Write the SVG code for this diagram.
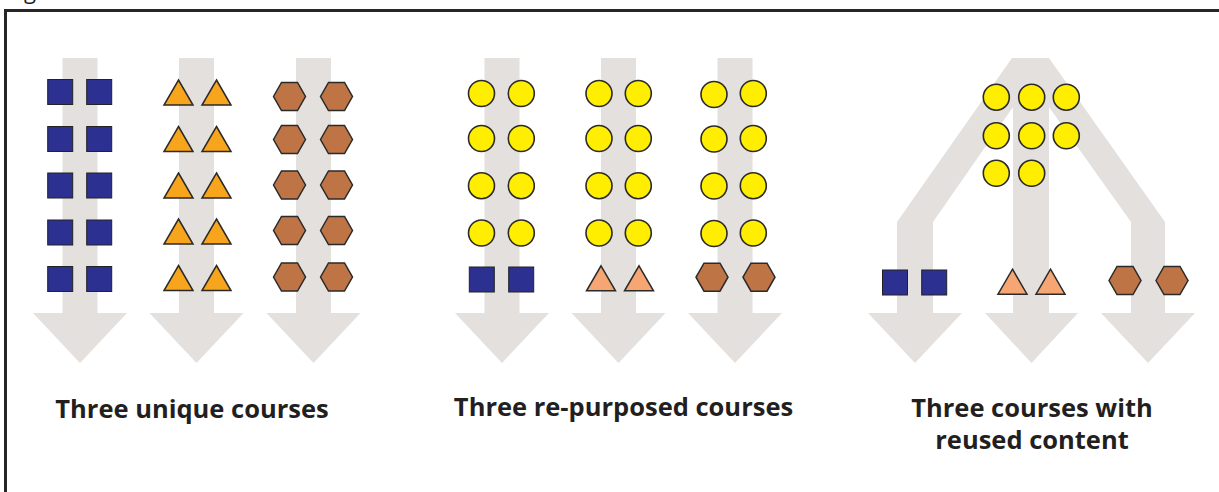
<svg xmlns="http://www.w3.org/2000/svg" xmlns:xlink="http://www.w3.org/1999/xlink" width="1219" height="492" viewBox="0 0 1219 492">
<style>
  .arrow { fill: #e3e0de; stroke: none; }
  .sq { fill: #2b3091; stroke: #222; stroke-width: 1; }
  .tri1 { fill: #f8a51e; stroke: #2a2a2a; stroke-width: 1.5; stroke-linejoin: miter; }
  .tri2 { fill: #f5a673; stroke: #2a2a2a; stroke-width: 1.5; }
  .hex { fill: #bf7446; stroke: #2a2a2a; stroke-width: 1.5; }
  .cir { fill: #ffee00; stroke: #2a2a2a; stroke-width: 1.6; }
  .label { font-family: "Open Sans", "Noto Sans", "Liberation Sans", sans-serif; font-weight: bold; font-size: 25.5px; fill: #231f20; text-anchor: middle; }
  .frame { fill: none; stroke: #262626; stroke-width: 3; }
</style>
<defs>
  <rect id="sq" x="-12.5" y="-12.5" width="25" height="25"/>
  <polygon id="tri" points="0,-12.5 14.5,12.5 -14.5,12.5"/>
  <polygon id="hex" points="-16,0 -8,-14 8,-14 16,0 8,14 -8,14"/>
  <circle id="cir" r="13"/>
</defs>
<rect width="1219" height="492" fill="#ffffff"/>
<text x="24" y="-1" font-family="'Open Sans', sans-serif" font-size="22" fill="#231f20">g</text>
<path class="frame" d="M1222,10.5 H5.5 V495"/>

<g id="connectors">
  <path class="arrow" d="M62.5,58 H97.5 V313 H127 L80,363 L33,313 H62.5 Z"/>
  <path class="arrow" d="M179,58 H214 V313 H243.5 L196.5,363 L149.5,313 H179 Z"/>
  <path class="arrow" d="M296,58 H331 V313 H360.5 L313.5,363 L266.5,313 H296 Z"/>
  <path class="arrow" d="M484.5,58 H519.5 V313 H549 L502,363 L455,313 H484.5 Z"/>
  <path class="arrow" d="M601,58 H636 V313 H665.5 L618.5,363 L571.5,313 H601 Z"/>
  <path class="arrow" d="M717.5,58 H752.5 V313 H782 L735,363 L688,313 H717.5 Z"/>
  <path class="arrow" d="M1012,58 H1049 L1165,222 V313 H1195 L1148,363 L1101,313 H1131 V222 L1049,107 V313 H1078 L1031.5,363 L985,313 H1013 V107 L933,222 V313 H962 L915,363 L868,313 H897 V222 Z"/>
</g>

<g id="panel-unique">
  <g id="unique-squares" class="sq">
    <use xlink:href="#sq" x="60.2" y="92"/><use xlink:href="#sq" x="99.2" y="92"/>
    <use xlink:href="#sq" x="60.2" y="139"/><use xlink:href="#sq" x="99.2" y="139"/>
    <use xlink:href="#sq" x="60.2" y="185.5"/><use xlink:href="#sq" x="99.2" y="185.5"/>
    <use xlink:href="#sq" x="60.2" y="232.5"/><use xlink:href="#sq" x="99.2" y="232.5"/>
    <use xlink:href="#sq" x="60.2" y="279"/><use xlink:href="#sq" x="99.2" y="279"/>
  </g>
  <g id="unique-triangles" class="tri1">
    <use xlink:href="#tri" x="178.5" y="92.5"/><use xlink:href="#tri" x="216.5" y="92.5"/>
    <use xlink:href="#tri" x="178.5" y="139"/><use xlink:href="#tri" x="216.5" y="139"/>
    <use xlink:href="#tri" x="178.5" y="185.5"/><use xlink:href="#tri" x="216.5" y="185.5"/>
    <use xlink:href="#tri" x="178.5" y="231.5"/><use xlink:href="#tri" x="216.5" y="231.5"/>
    <use xlink:href="#tri" x="178.5" y="278"/><use xlink:href="#tri" x="216.5" y="278"/>
  </g>
  <g id="unique-hexagons" class="hex">
    <use xlink:href="#hex" x="289.5" y="96.5"/><use xlink:href="#hex" x="336.5" y="96.5"/>
    <use xlink:href="#hex" x="289.5" y="139.5"/><use xlink:href="#hex" x="336.5" y="139.5"/>
    <use xlink:href="#hex" x="289.5" y="185"/><use xlink:href="#hex" x="336.5" y="185"/>
    <use xlink:href="#hex" x="289.5" y="230.5"/><use xlink:href="#hex" x="336.5" y="230.5"/>
    <use xlink:href="#hex" x="289.5" y="277"/><use xlink:href="#hex" x="336.5" y="277"/>
  </g>
  <text class="label" x="192" y="418">Three unique courses</text>
</g>

<g id="panel-repurposed">
  <g id="repurposed-circles" class="cir">
    <use xlink:href="#cir" x="481.5" y="93.5"/><use xlink:href="#cir" x="521.3" y="93.5"/>
    <use xlink:href="#cir" x="481.5" y="138.5"/><use xlink:href="#cir" x="521.3" y="138.5"/>
    <use xlink:href="#cir" x="481.5" y="185.7"/><use xlink:href="#cir" x="521.3" y="185.7"/>
    <use xlink:href="#cir" x="481.5" y="233"/><use xlink:href="#cir" x="521.3" y="233"/>
    <use xlink:href="#cir" x="599" y="93.5"/><use xlink:href="#cir" x="638.3" y="93.5"/>
    <use xlink:href="#cir" x="599" y="138.5"/><use xlink:href="#cir" x="638.3" y="138.5"/>
    <use xlink:href="#cir" x="599" y="185.7"/><use xlink:href="#cir" x="638.3" y="185.7"/>
    <use xlink:href="#cir" x="599" y="233"/><use xlink:href="#cir" x="638.3" y="233"/>
    <use xlink:href="#cir" x="714" y="94.5"/><use xlink:href="#cir" x="753.3" y="93.5"/>
    <use xlink:href="#cir" x="714" y="139"/><use xlink:href="#cir" x="753.3" y="138.5"/>
    <use xlink:href="#cir" x="714" y="186"/><use xlink:href="#cir" x="753.3" y="185.7"/>
    <use xlink:href="#cir" x="714" y="233.5"/><use xlink:href="#cir" x="753.3" y="233"/>
  </g>
  <g id="repurposed-squares" class="sq">
    <use xlink:href="#sq" x="481.8" y="279.5"/><use xlink:href="#sq" x="521.2" y="279.5"/>
  </g>
  <g id="repurposed-triangles" class="tri2">
    <use xlink:href="#tri" x="601" y="278.3"/><use xlink:href="#tri" x="639" y="278.3"/>
  </g>
  <g id="repurposed-hexagons" class="hex">
    <use xlink:href="#hex" x="712" y="277.2"/><use xlink:href="#hex" x="759" y="277.2"/>
  </g>
  <text class="label" x="623.5" y="416">Three re-purposed courses</text>
</g>

<g id="panel-reused">
  <g id="reused-circles" class="cir">
    <use xlink:href="#cir" x="996.3" y="97.2"/><use xlink:href="#cir" x="1031.7" y="97.2"/><use xlink:href="#cir" x="1066.3" y="97.2"/>
    <use xlink:href="#cir" x="996.3" y="135.8"/><use xlink:href="#cir" x="1031.7" y="135.8"/><use xlink:href="#cir" x="1066.3" y="135.8"/>
    <use xlink:href="#cir" x="996.3" y="173.3"/><use xlink:href="#cir" x="1031.7" y="173.3"/>
  </g>
  <g id="reused-squares" class="sq">
    <use xlink:href="#sq" x="895" y="282.5"/><use xlink:href="#sq" x="934.2" y="282.5"/>
  </g>
  <g id="reused-triangles" class="tri2">
    <use xlink:href="#tri" x="1012.5" y="281.7"/><use xlink:href="#tri" x="1050.5" y="281.7"/>
  </g>
  <g id="reused-hexagons" class="hex">
    <use xlink:href="#hex" x="1125" y="280.5"/><use xlink:href="#hex" x="1172" y="280.5"/>
  </g>
  <text class="label" x="1032" y="416.7">Three courses with</text>
  <text class="label" x="1032" y="449">reused content</text>
</g>
</svg>
